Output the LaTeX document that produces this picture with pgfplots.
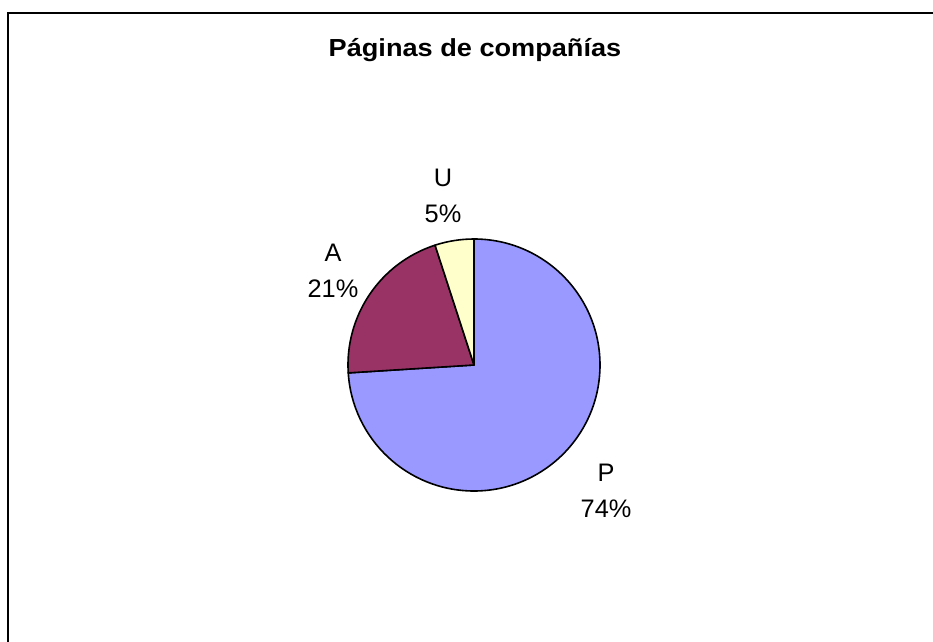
\documentclass[border=0pt]{standalone}
\usepackage{pgfplots}
\pgfplotsset{compat=1.18}
\usepackage{pgfplotstable}
\usepackage{fontspec}
\setmainfont{Liberation Sans}
\definecolor{cP}{RGB}{153,153,255}
\definecolor{cA}{RGB}{153,51,102}
\definecolor{cU}{RGB}{255,255,204}
\pgfplotstableread{
label value
P 74
A 21
U 5
}\piedata
\pgfplotstablegetelem{0}{value}\of\piedata \let\vP\pgfplotsretval
\pgfplotstablegetelem{1}{value}\of\piedata \let\vA\pgfplotsretval
\pgfplotstablegetelem{2}{value}\of\piedata \let\vU\pgfplotsretval
\pgfmathsetmacro\aP{90-3.6*\vP}
\pgfmathsetmacro\aA{\aP-3.6*\vA}
\pgfmathsetmacro\aU{\aA-3.6*\vU}
\begin{document}%
\begin{tikzpicture}
\draw[line width=1.5pt] (6pt,-483pt) -- (6pt,-9.75pt) -- (701pt,-9.75pt);
\node[font=\fontsize{18.5}{20}\selectfont\bfseries] at (356.25pt,-37.5pt) {\scalebox{1.10}[1]{Páginas de compañías}};
\begin{axis}[at={(355.5pt,-273.75pt)}, anchor=center, hide axis, scale only axis,
  width=189pt, height=189pt, xmin=-1, xmax=1, ymin=-1, ymax=1, clip=false]
\filldraw[fill=cP, line width=1.2pt, line join=round] (axis cs:0,0) -- ++(90:94.5pt) arc[start angle=90, end angle=\aP, radius=94.5pt] -- cycle;
\filldraw[fill=cA, line width=1.2pt, line join=round] (axis cs:0,0) -- ++(\aP:94.5pt) arc[start angle=\aP, end angle=\aA, radius=94.5pt] -- cycle;
\filldraw[fill=cU, line width=1.2pt, line join=round] (axis cs:0,0) -- ++(\aA:94.5pt) arc[start angle=\aA, end angle=\aU, radius=94.5pt] -- cycle;
\node[align=center, font=\fontsize{19}{27}\selectfont] at (axis cs:1.048,-1.0) {P\\\vP\%};
\node[align=center, font=\fontsize{19}{27}\selectfont] at (axis cs:-1.119,0.746) {A\\\vA\%};
\node[align=center, font=\fontsize{19}{27}\selectfont] at (axis cs:-0.246,1.345) {U\\\vU\%};
\end{axis}
\pgfresetboundingbox
\path[use as bounding box] (0,0) rectangle (699.75pt,-481.5pt);
\end{tikzpicture}%
\end{document}
